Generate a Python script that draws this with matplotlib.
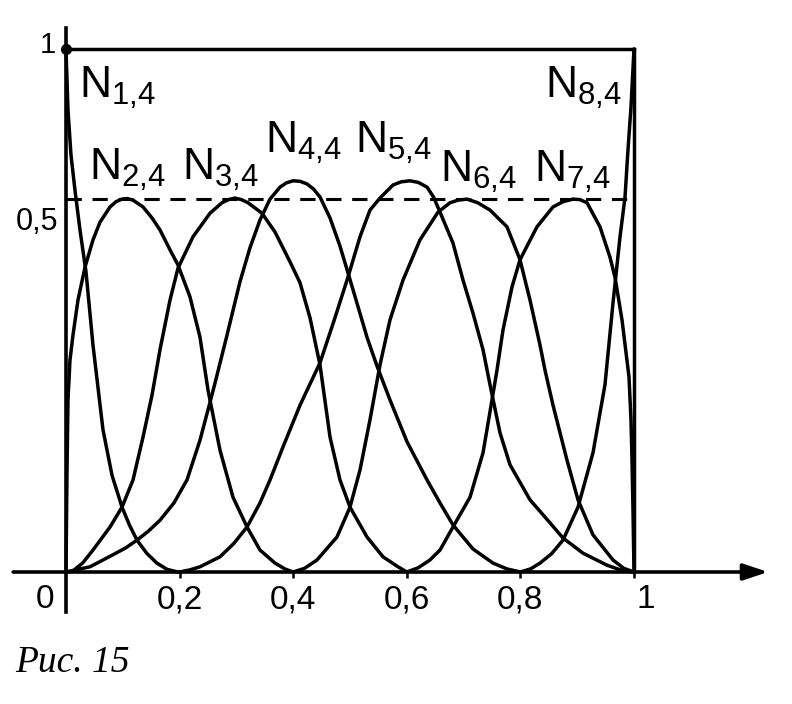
import matplotlib
matplotlib.use("Agg")
import matplotlib.pyplot as plt

# Cubic B-spline basis N_i,4
n1_x = [0, 0.0035, 0.0088, 0.0158, 0.0246, 0.0352, 0.0475, 0.0651, 0.081, 0.0986, 0.112, 0.125,
        0.142, 0.160, 0.178, 0.197]
n1_y = [1, 0.883, 0.797, 0.730, 0.654, 0.574, 0.434, 0.272, 0.185, 0.124, 0.089, 0.061,
        0.036, 0.017, 0.005, 0]

n2_x = [0, 0.0018, 0.0035, 0.007, 0.0123, 0.0211, 0.0335, 0.0475, 0.0599, 0.0775, 0.088,
        0.0986, 0.108, 0.118, 0.1356, 0.1514, 0.1655, 0.1831, 0.1972, 0.2183, 0.2359, 0.25,
        0.2711, 0.294, 0.3187, 0.3415, 0.368, 0.385, 0.4]
n2_y = [0, 0.195, 0.329, 0.405, 0.453, 0.52, 0.583, 0.635, 0.669, 0.698, 0.708,
        0.713, 0.714, 0.711, 0.698, 0.677, 0.654, 0.616, 0.587, 0.526, 0.449, 0.348,
        0.233, 0.143, 0.086, 0.042, 0.017, 0.006, 0]

n3_x = [0, 0.0123, 0.03, 0.0475, 0.0775, 0.0986, 0.118, 0.1356, 0.1514, 0.1655, 0.1831,
        0.1972, 0.2236, 0.2535, 0.2746, 0.286, 0.2975, 0.309, 0.3204, 0.3451, 0.368, 0.3944,
        0.412, 0.4296, 0.4472, 0.4648, 0.4824, 0.5, 0.5299, 0.5581, 0.5845, 0.6]
n3_y = [0, 0.002, 0.018, 0.042, 0.086, 0.124, 0.176, 0.258, 0.338, 0.425, 0.52,
        0.581, 0.641, 0.686, 0.706, 0.712, 0.715, 0.712, 0.706, 0.686, 0.650, 0.593,
        0.553, 0.486, 0.396, 0.258, 0.176, 0.124, 0.067, 0.029, 0.010, 0]

n4_x = [0, 0.0423, 0.0827, 0.105, 0.125, 0.145, 0.1655, 0.19, 0.213, 0.2359, 0.25, 0.2623,
        0.2835, 0.3063, 0.3239, 0.3415, 0.3592, 0.3768, 0.388, 0.3996, 0.412, 0.4243, 0.436,
        0.4472, 0.4648, 0.4824, 0.4965, 0.5123, 0.5299, 0.5475, 0.5704, 0.6004, 0.6356,
        0.6585, 0.6813, 0.7165, 0.7518, 0.776, 0.8]
n4_y = [0, 0.010, 0.033, 0.046, 0.061, 0.078, 0.099, 0.132, 0.176, 0.252, 0.310, 0.361,
        0.453, 0.555, 0.620, 0.673, 0.713, 0.736, 0.744, 0.748, 0.747, 0.742, 0.732,
        0.717, 0.677, 0.623, 0.572, 0.514, 0.449, 0.394, 0.329, 0.249, 0.176,
        0.132, 0.090, 0.044, 0.017, 0.006, 0]

n5_x = [0.2, 0.218, 0.2359, 0.2711, 0.295, 0.3187, 0.3415, 0.3592, 0.382, 0.412, 0.4472,
        0.472, 0.4965, 0.5176, 0.5352, 0.5528, 0.5757, 0.59, 0.6056, 0.62, 0.6356, 0.647,
        0.6585, 0.6813, 0.699, 0.7165, 0.7342, 0.7465, 0.7641, 0.7817, 0.8169, 0.8521, 0.875,
        0.9102, 0.9525, 0.976, 1]
n5_y = [0, 0.004, 0.010, 0.029, 0.054, 0.086, 0.132, 0.176, 0.239, 0.319, 0.400,
        0.481, 0.564, 0.641, 0.692, 0.715, 0.740, 0.746, 0.748, 0.745, 0.736, 0.717,
        0.688, 0.629, 0.558, 0.495, 0.425, 0.358, 0.266, 0.205, 0.138, 0.094, 0.065,
        0.036, 0.013, 0.004, 0]

n6_x = [0.4, 0.42, 0.4419, 0.4771, 0.5, 0.5176, 0.5352, 0.5528, 0.5704, 0.5933, 0.6232,
        0.6549, 0.6761, 0.69, 0.706, 0.725, 0.7465, 0.7764, 0.7993, 0.8169, 0.8345, 0.8433,
        0.8574, 0.882, 0.9014, 0.9278, 0.963, 0.982, 1]
n6_y = [0, 0.007, 0.023, 0.067, 0.124, 0.195, 0.291, 0.396, 0.482, 0.558, 0.635,
        0.688, 0.706, 0.711, 0.713, 0.706, 0.692, 0.660, 0.597, 0.520, 0.434, 0.386,
        0.319, 0.214, 0.138, 0.071, 0.023, 0.007, 0]

n7_x = [0.6, 0.62, 0.6408, 0.6585, 0.6813, 0.7113, 0.7342, 0.75, 0.7588, 0.7694, 0.7852,
        0.7993, 0.8292, 0.8574, 0.875, 0.8926, 0.905, 0.9173, 0.9401, 0.9577, 0.9665, 0.9789,
        0.9912, 0.9947, 0.9965, 0.9982, 1]
n7_y = [0, 0.008, 0.023, 0.042, 0.086, 0.143, 0.228, 0.329, 0.386, 0.463, 0.545,
        0.597, 0.660, 0.698, 0.708, 0.713, 0.712, 0.706, 0.660, 0.602, 0.564, 0.482,
        0.373, 0.291, 0.214, 0.119, 0]

n8_x = [0.8, 0.818, 0.8345, 0.855, 0.875, 0.9014, 0.9278, 0.9489, 0.963, 0.9754, 0.9842,
        0.9894, 0.9947, 1]
n8_y = [0, 0.006, 0.017, 0.035, 0.061, 0.124, 0.228, 0.358, 0.514, 0.641, 0.717,
        0.807, 0.889, 1]

curves = [(n1_x, n1_y), (n2_x, n2_y), (n3_x, n3_y), (n4_x, n4_y),
          (n5_x, n5_y), (n6_x, n6_y), (n7_x, n7_y), (n8_x, n8_y)]
labels = [r'$N_{1{,}4}$', r'$N_{2{,}4}$', r'$N_{3{,}4}$', r'$N_{4{,}4}$',
          r'$N_{5{,}4}$', r'$N_{6{,}4}$', r'$N_{7{,}4}$', r'$N_{8{,}4}$']

x_ticks = [0.2, 0.4, 0.6, 0.8, 1]
x_tick_labels = ['0,2', '0,4', '0,6', '0,8', '1']
dash_level = 0.713

plt.rcParams['font.family'] = ['Liberation Sans', 'DejaVu Sans']
plt.rcParams['mathtext.default'] = 'regular'

fig = plt.figure(figsize=(7.92, 7.04), dpi=100)
fig.patch.set_facecolor('white')
ax = fig.add_axes([66 / 792, 132 / 704, 568 / 792, 523 / 704])
ax.set_xlim(0, 1)
ax.set_ylim(0, 1)
ax.axis('off')

lw = 2.5
for cx, cy in curves:
    ax.plot(cx, cy, color='black', lw=lw, clip_on=False,
            solid_joinstyle='round', solid_capstyle='round')

# frame: top line at 1 and right line at x=1
ax.plot([0, 1], [1, 1], color='black', lw=lw, clip_on=False)
ax.plot([1, 1], [0, 1], color='black', lw=lw, clip_on=False)
ax.plot([0, 1], [dash_level, dash_level], color='black', lw=2.2,
        ls=(0, (5, 3.5)), clip_on=False)

# axes
ax.plot([0, 0], [-0.077, 1.04], color='black', lw=2.6, clip_on=False)
ax.annotate('', xy=(1.236, 0), xytext=(-0.093, 0),
            arrowprops=dict(arrowstyle='-|>,head_length=0.75,head_width=0.25',
                            mutation_scale=20, lw=2.6, color='black',
                            shrinkA=0, shrinkB=0),
            annotation_clip=False)
ax.vlines(x_ticks, -0.011, 0, color='black', lw=1.8, clip_on=False)
ax.plot([0], [1], 'o', color='black', ms=7, clip_on=False)

# tick labels
ax.text(-0.037, -0.069, '0', fontsize=24, ha='center', va='baseline')
for xt, lab in zip(x_ticks, x_tick_labels):
    xpos = xt + 0.02 if lab == '1' else xt
    ax.text(xpos, -0.069, lab, fontsize=24, ha='center', va='baseline')
ax.text(-0.032, 0.992, '1', fontsize=21, ha='center', va='baseline')
ax.text(-0.051, 0.654, '0,5', fontsize=22, ha='center', va='baseline')

# curve labels
label_pos = [(0.0229, 0.906), (0.0405, 0.75), (0.2042, 0.75), (0.3504, 0.801),
             (0.5088, 0.801), (0.6585, 0.746), (0.8239, 0.746), (0.8433, 0.906)]
for (lx, ly), lab in zip(label_pos, labels):
    ax.text(lx, ly, lab, fontsize=32, ha='left', va='baseline')

ax.text(-0.09, -0.191, 'Рис. 15', fontsize=27, style='italic',
        family=['Liberation Serif', 'DejaVu Serif'], ha='left', va='baseline')

fig.savefig('out.png', dpi=100, facecolor='white')
